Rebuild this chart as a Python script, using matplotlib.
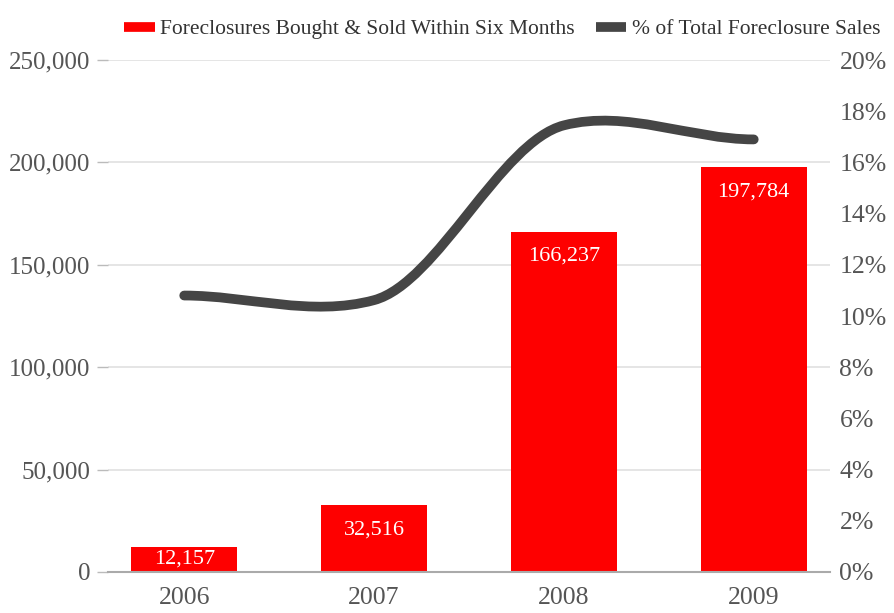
import matplotlib
matplotlib.use("Agg")
import matplotlib.pyplot as plt
from matplotlib.path import Path
from matplotlib.patches import PathPatch
from matplotlib.lines import Line2D
from matplotlib.ticker import FuncFormatter, MultipleLocator
import numpy as np

years = ["2006", "2007", "2008", "2009"]
flips = [12157, 32516, 166237, 197784]
pct_share = [10.8, 10.62, 17.45, 16.9]

bar_red = "#fe0000"
line_gray = "#454545"
txt_gray = "#555555"

plt.rcParams["font.family"] = ["Liberation Serif", "DejaVu Serif"]

fig = plt.figure(figsize=(8.95, 6.13), dpi=100)
ax = fig.add_axes([0.121, 0.067, 0.806, 0.835])
ax2 = ax.twinx()

x = np.arange(len(years))
ax.bar(x, flips, width=0.56, color=bar_red, zorder=2)

# value labels inside the top of each bar (short bar: centred)
for xi, v in zip(x, flips):
    ylab = max(v - 12000, v / 2)
    ax.text(xi, ylab, f"{v:,}", ha="center", va="center", color="white",
            fontsize=16, zorder=3)

ax.set_xlim(-0.4, 3.4)
ax.set_ylim(0, 250000)
ax.yaxis.set_major_locator(MultipleLocator(50000))
ax.yaxis.set_major_formatter(FuncFormatter(lambda v, p: f"{int(v):,}"))
ax.set_xticks(x)
ax.set_xticklabels(years)
ax.grid(axis="y", color="#e0e0e0", linewidth=1.2, zorder=0)
ax.set_axisbelow(True)
ax.tick_params(axis="y", length=8, width=1, color="#bbbbbb", labelsize=18,
               labelcolor=txt_gray, pad=5)
ax.tick_params(axis="x", length=0, labelsize=18.5, labelcolor=txt_gray, pad=11)
for s in ["top", "left", "right"]:
    ax.spines[s].set_visible(False)
ax.spines["bottom"].set_color("#aaaaaa")
ax.spines["bottom"].set_linewidth(1.5)

# smoothed percentage line (cubic Bezier through the points)
k = 0.1
n = len(pct_share)
verts = [(x[0], pct_share[0])]
codes = [Path.MOVETO]
for i in range(n - 1):
    t0 = 0 if i == 0 else k * (pct_share[i + 1] - pct_share[i - 1])
    t1 = 0 if i + 1 == n - 1 else k * (pct_share[i + 2] - pct_share[i])
    verts += [(x[i] + 1 / 3, pct_share[i] + t0),
              (x[i + 1] - 1 / 3, pct_share[i + 1] - t1),
              (x[i + 1], pct_share[i + 1])]
    codes += [Path.CURVE4] * 3
patch = PathPatch(Path(verts, codes), fill=False, edgecolor=line_gray,
                  linewidth=7, capstyle="round", joinstyle="round", zorder=4)
ax2.add_patch(patch)

ax2.set_ylim(0, 20)
ax2.yaxis.set_major_locator(MultipleLocator(2))
ax2.yaxis.set_major_formatter(FuncFormatter(lambda v, p: f"{int(round(v))}%"))
ax2.tick_params(axis="y", length=0, labelsize=18.5, labelcolor=txt_gray, pad=7)
for s in ax2.spines.values():
    s.set_visible(False)

handles = [Line2D([], [], color=bar_red, lw=7, solid_capstyle="butt"),
           Line2D([], [], color=line_gray, lw=7, solid_capstyle="butt")]
labels = ["Foreclosures Bought & Sold Within Six Months",
          "% of Total Foreclosure Sales"]
fig.legend(handles, labels, loc="upper right", bbox_to_anchor=(1.005, 1.0),
           ncol=2, frameon=False, fontsize=15.5, handlelength=1.4,
           handletextpad=0.25, columnspacing=1.0, labelcolor="#333333")

fig.savefig("out.png", dpi=100)
